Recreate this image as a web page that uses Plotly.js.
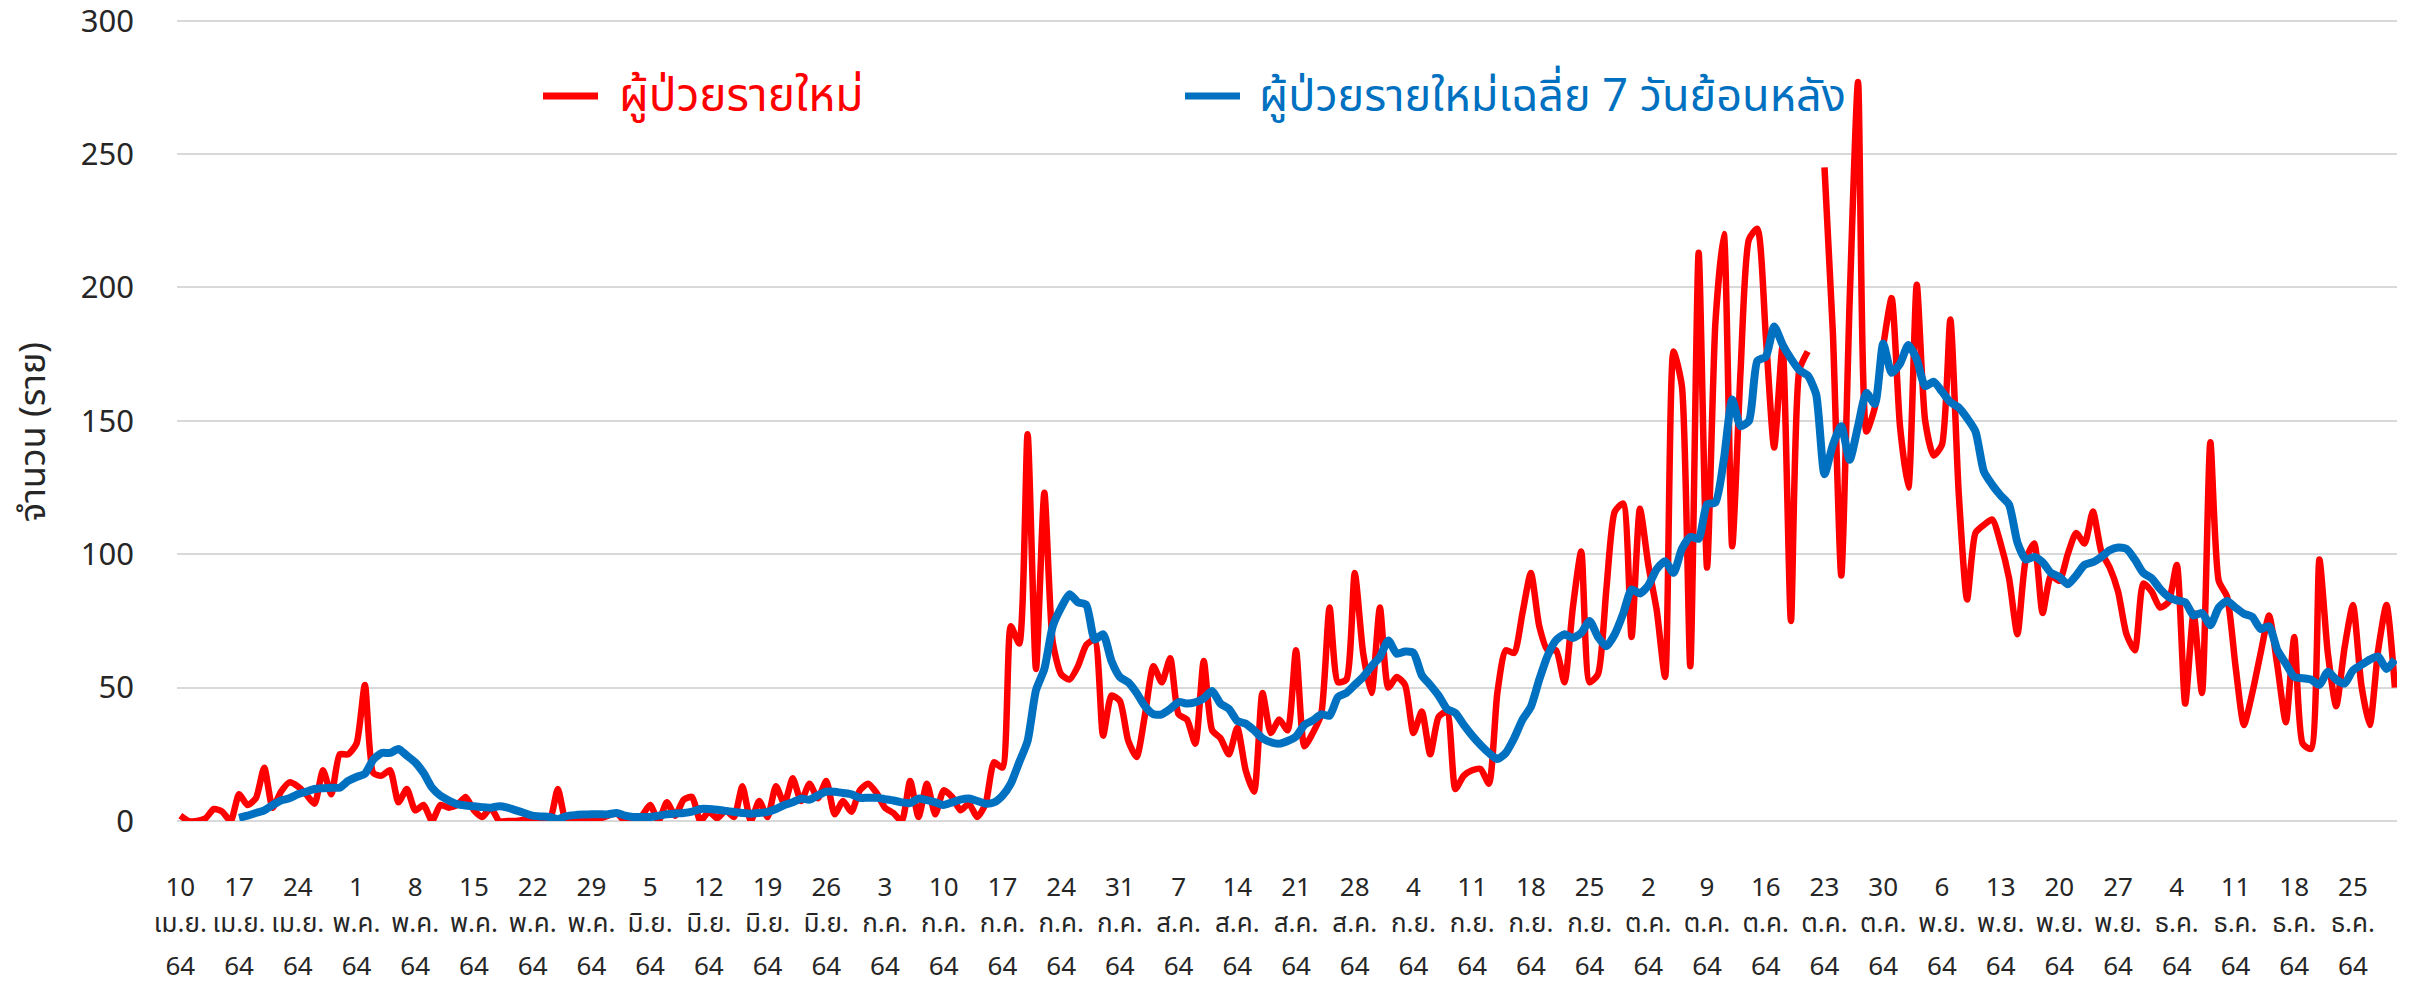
<!DOCTYPE html>
<html>
<head>
<meta charset="utf-8">
<script src="https://cdn.plot.ly/plotly-3.0.1.min.js"></script>
<style>
  html, body { margin: 0; padding: 0; background: #ffffff; }
  #chart { width: 2433px; height: 994px; }
</style>
</head>
<body>
<div id="chart"></div>
<script>
// ---------- DATA ----------
const startDate = '2021-04-10';   // 10 เม.ย. 64 (first day of the series)
const seriesNames = ['ผู้ป่วยรายใหม่', 'ผู้ป่วยรายใหม่เฉลี่ย 7 วันย้อนหลัง'];

// daily new cases (10 Apr 2021 - 30 Dec 2021), null = no report
const newCases = [
  2, 0, 0, 1, 4.5, 3.5, 0, 10, 6, 8.5,
  20, 5, 11, 14.5, 13, 10, 6.5, 19, 10, 25,
  25, 29, 51, 18, 17, 19, 7, 12, 4, 6,
  0, 6, 5, 6, 9, 4, 1.5, 5, 0, 0,
  0, 0.5, 1, 0, 0, 12, 0, 1, 1, 1,
  1, 2, 3, 0, 1, 2, 6, 0, 7, 2,
  8, 9, 0, 3.5, 1, 4, 1.5, 13, 0, 7.5,
  1.5, 13, 6.5, 16, 7.5, 14, 8.5, 15, 2.5, 7.5,
  3.5, 11.5, 14, 10.5, 5, 3, 0, 15, 1.5, 14,
  2.5, 11.5, 9, 4, 6.5, 1.5, 6.5, 22, 20, 73,
  66.5, 145, 57, 123, 67, 55, 53, 58, 66, 68,
  32, 47, 45, 30, 24, 40, 58, 52, 61, 40,
  38, 29, 60, 34, 31, 25, 35, 19, 11, 48,
  33, 38, 34, 64, 28, 33, 40, 80, 52, 53,
  93, 63, 48, 80, 50, 54, 51, 33, 41, 25,
  39, 41, 12, 17, 19, 19.5, 14, 48, 64, 63,
  78, 93, 73, 64, 64, 52, 80, 101, 52, 55,
  87, 116, 119, 69, 117, 96, 79, 54, 176, 163,
  58, 213, 95, 187, 220, 103, 169, 218, 222, 182,
  140, 178, 75, 169, 176, null, 245, 183, 92, 195,
  277, 146, 155, 178, 196, 148, 125, 201, 150, 137,
  141, 188, 123, 83, 108, 111, 113, 104, 91, 70,
  98, 104, 78, 92, 90, 100, 108, 104, 116, 101,
  95, 86, 70, 64, 89, 86, 80, 82, 96, 44,
  78, 48, 142, 90, 84, 58, 36, 48, 63, 77,
  58, 37, 69, 29, 27, 98, 63, 43, 65, 81,
  51, 36, 64, 81, 50
];

// 7-day rolling average (starts on 17 Apr 2021)
const avg7 = [
  null, null, null, null, null, null, null, 1.2, 2, 3,
  4, 6, 7.7, 8.5, 10, 11, 12, 12.3, 12.5, 12.5,
  15, 16.5, 17.7, 23, 25.5, 25.5, 27, 24.5, 22, 18,
  12.5, 9.5, 7.7, 6.3, 5.8, 5.5, 5.2, 5, 5.5, 5,
  4, 3, 2, 1.7, 1.5, 0.7, 1.8, 2.2, 2.4, 2.5,
  2.5, 2.5, 3, 2, 1.5, 1.5, 1.5, 2, 2.5, 2.8,
  3, 3.5, 4.5, 4.5, 4.2, 3.8, 3.4, 3, 2.7, 3,
  3.4, 4.5, 6, 7, 8.4, 8, 9.6, 11, 11, 10.5,
  10, 8.7, 8.7, 8.7, 8.2, 7.7, 7, 6.7, 8.4, 7.8,
  7, 6, 7, 8, 8.4, 7.5, 6.5, 7, 9.5, 14,
  22, 30, 49, 57, 73, 80, 85, 82, 81, 68,
  70, 60, 54, 52, 48, 43, 40, 40, 42, 44.6,
  44, 44.5, 46, 48.7, 44, 42, 37.5, 36.5, 34, 31,
  29.5, 29, 30, 31.7, 36, 37.7, 40, 39.5, 46.5, 48,
  51, 54, 58, 61.5, 67.7, 62.7, 63.5, 63, 54.6, 51,
  47, 42, 40.5, 36, 32, 28.5, 25.5, 23.2, 25.5, 31,
  38, 42.8, 53, 62, 67.8, 70, 68.6, 70.5, 75, 69,
  65.5, 70, 77.7, 86.8, 85.3, 88.3, 94.4, 97.4, 93, 102,
  106.5, 105.8, 118.7, 119.4, 135.4, 158, 148, 150, 172.5, 174,
  185.4, 178.6, 173.3, 169, 167, 160, 130, 141, 148, 135.4,
  148, 160.5, 156.3, 179, 168, 171.4, 178.4, 173, 163, 164.7,
  161, 157, 155, 151, 146, 131, 126, 122, 118.6, 104.4,
  98, 99, 97, 93, 91.5, 88.7, 92, 96, 97, 99,
  101.5, 102.5, 102, 98, 93, 91, 87, 84, 82.7, 82,
  77, 78, 73.4, 80, 82.5, 80, 77.7, 76.5, 72, 73,
  64, 59, 54, 53.5, 53, 51, 56, 53, 51.5, 56.5,
  58.5, 60.5, 61.7, 57, 60.5
];

// x tick labels (every 7 days from startDate): day / month / year rows
const tickDays = ['10','17','24','1','8','15','22','29','5','12','19','26','3','10','17','24','31',
  '7','14','21','28','4','11','18','25','2','9','16','23','30','6','13','20','27','4','11','18','25'];
const tickMonths = ['เม.ย.','เม.ย.','เม.ย.','พ.ค.','พ.ค.','พ.ค.','พ.ค.','พ.ค.','มิ.ย.','มิ.ย.','มิ.ย.','มิ.ย.',
  'ก.ค.','ก.ค.','ก.ค.','ก.ค.','ก.ค.','ส.ค.','ส.ค.','ส.ค.','ส.ค.','ก.ย.','ก.ย.','ก.ย.','ก.ย.',
  'ต.ค.','ต.ค.','ต.ค.','ต.ค.','ต.ค.','พ.ย.','พ.ย.','พ.ย.','พ.ย.','ธ.ค.','ธ.ค.','ธ.ค.','ธ.ค.'];
const tickYears = tickDays.map(() => '64');
const yTickVals = [0, 50, 100, 150, 200, 250, 300];
const yTitle = 'จำนวน (ราย)';

// ---------- BUILD ----------
function isoDay(base, n) {
  const d = new Date(base + 'T00:00:00Z');
  d.setUTCDate(d.getUTCDate() + n);
  return d.toISOString().slice(0, 10);
}
const dates = newCases.map((_, i) => isoDay(startDate, i));
const tickVals = tickDays.map((_, i) => dates[i * 7]);

const FONT = "Tahoma, 'Noto Sans Thai', 'Noto Sans', 'Open Sans', sans-serif";
const RED = '#FF0000';
const BLUE = '#0070C0';
const TXT = '#262626';

const xRange = ['2021-04-09 14:24', '2021-12-30 06:00'];

const traces = [
  { x: dates, y: newCases, type: 'scatter', mode: 'lines', name: seriesNames[0],
    line: { color: RED, width: 6.5, shape: 'spline', smoothing: 0.6 },
    connectgaps: false, hoverinfo: 'x+y', showlegend: false },
  { x: dates, y: avg7, type: 'scatter', mode: 'lines', name: seriesNames[1],
    line: { color: BLUE, width: 8, shape: 'spline', smoothing: 0.6 },
    connectgaps: false, hoverinfo: 'x+y', showlegend: false },
  // empty helper traces so the month / year label rows get their own axes
  { x: [dates[0]], y: [null], xaxis: 'x2', yaxis: 'y', type: 'scatter', mode: 'lines',
    showlegend: false, hoverinfo: 'skip' },
  { x: [dates[0]], y: [null], xaxis: 'x3', yaxis: 'y', type: 'scatter', mode: 'lines',
    showlegend: false, hoverinfo: 'skip' }
];

const baseX = {
  type: 'date', range: xRange, tickvals: tickVals, showgrid: false, zeroline: false,
  showline: false, ticks: '', tickfont: { family: FONT, size: 26, color: TXT }, fixedrange: true
};

const W = 2433, H = 994, L = 177, R = 36, T = 18, B = 173;
const px = v => (v - L) / (W - L - R);
const py = v => (H - B - v) / (H - T - B);

const layout = {
  width: W, height: H,
  margin: { l: L, r: R, t: T, b: B, pad: 0 },
  paper_bgcolor: '#ffffff', plot_bgcolor: '#ffffff',
  font: { family: FONT, color: TXT },
  showlegend: false,
  xaxis: Object.assign({}, baseX, { ticktext: tickDays, ticklabelstandoff: 48 }),
  xaxis2: Object.assign({}, baseX, { ticktext: tickMonths, overlaying: 'x', anchor: 'y', side: 'bottom', ticklabelstandoff: 84 }),
  xaxis3: Object.assign({}, baseX, { ticktext: tickYears, overlaying: 'x', anchor: 'y', side: 'bottom', ticklabelstandoff: 127 }),
  yaxis: {
    range: [0, 301], tickvals: yTickVals,
    showgrid: true, gridcolor: '#D9D9D9', gridwidth: 2,
    zeroline: true, zerolinecolor: '#D9D9D9', zerolinewidth: 2,
    showline: false, ticks: '', ticklabelstandoff: 42, ticklabeloverflow: 'allow',
    tickfont: { family: FONT, size: 31, color: TXT },
    fixedrange: true
  },
  shapes: [
    { type: 'line', xref: 'paper', yref: 'paper', x0: px(543), x1: px(598), y0: py(96), y1: py(96),
      line: { color: RED, width: 7 } },
    { type: 'line', xref: 'paper', yref: 'paper', x0: px(1185), x1: px(1240), y0: py(96), y1: py(96),
      line: { color: BLUE, width: 7 } }
  ],
  annotations: [
    { xref: 'paper', yref: 'paper', x: px(617), y: py(97), xanchor: 'left', yanchor: 'middle',
      text: seriesNames[0], showarrow: false, font: { family: FONT, size: 46, color: RED } },
    { xref: 'paper', yref: 'paper', x: px(1257), y: py(97), xanchor: 'left', yanchor: 'middle',
      text: seriesNames[1], showarrow: false, font: { family: FONT, size: 45, color: BLUE } },
    // y-axis title
    { xref: 'paper', yref: 'paper', x: px(34), y: py(432), xanchor: 'center', yanchor: 'middle',
      textangle: -90, text: yTitle, showarrow: false, font: { family: FONT, size: 36, color: TXT } }
  ]
};

Plotly.newPlot('chart', traces, layout, { displayModeBar: false, staticPlot: true });
</script>
</body>
</html>
